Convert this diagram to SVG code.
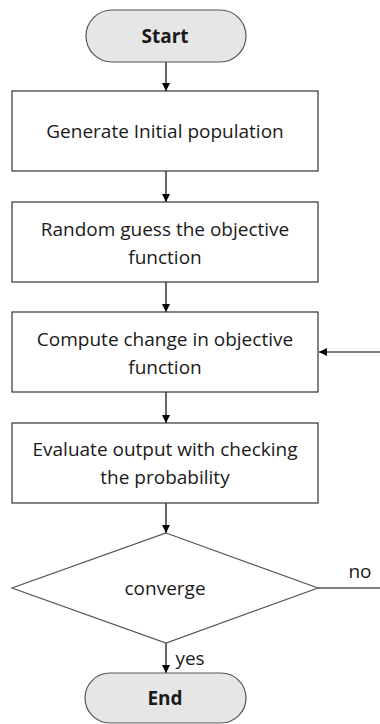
<svg xmlns="http://www.w3.org/2000/svg" width="380" height="724" viewBox="0 0 380 724">
  <style>
    .box { fill: #ffffff; stroke: #333333; stroke-width: 1.2; }
    .term { fill: #e6e6e6; stroke: #555555; stroke-width: 1.2; }
    .dia { fill: #ffffff; stroke: #555555; stroke-width: 1.2; }
    .lbl { font-family: "Open Sans", "Liberation Sans", sans-serif; font-size: 19px; fill: #1a1a1a; text-anchor: middle; }
    .bold { font-weight: bold; }
    .edge { stroke: #000000; stroke-width: 1.2; fill: none; }
  </style>
  <defs>
    <marker id="arrow" viewBox="0 0 10 10" refX="10" refY="5" markerWidth="8" markerHeight="8" markerUnits="userSpaceOnUse" orient="auto">
      <path d="M0,0 L10,5 L0,10 z" fill="#000000"/>
    </marker>
  </defs>

  <!-- connectors -->
  <g id="connectors">
    <line class="edge" x1="166" y1="62" x2="166" y2="91" marker-end="url(#arrow)"/>
    <line class="edge" x1="166" y1="171" x2="166" y2="202" marker-end="url(#arrow)"/>
    <line class="edge" x1="166" y1="282" x2="166" y2="312" marker-end="url(#arrow)"/>
    <line class="edge" x1="166" y1="392" x2="166" y2="423" marker-end="url(#arrow)"/>
    <line class="edge" x1="166" y1="503" x2="166" y2="533" marker-end="url(#arrow)"/>
    <line class="edge" x1="166" y1="643" x2="166" y2="673" marker-end="url(#arrow)"/>
    <line class="edge" x1="318" y1="588" x2="380" y2="588"/>
    <line class="edge" x1="380" y1="352" x2="319" y2="352" marker-end="url(#arrow)"/>
    <text class="lbl" x="360" y="578">no</text>
    <text class="lbl" x="190" y="665">yes</text>
  </g>

  <g id="start">
    <rect class="term" x="86" y="10" width="160" height="52" rx="26" ry="26"/>
    <text class="lbl bold" x="165" y="43">Start</text>
  </g>

  <g id="init">
    <rect class="box" x="12" y="91" width="306" height="80"/>
    <text class="lbl" x="165" y="138">Generate Initial population</text>
  </g>

  <g id="guess">
    <rect class="box" x="12" y="202" width="306" height="80"/>
    <text class="lbl" x="165" y="236">Random guess the objective</text>
    <text class="lbl" x="165" y="264">function</text>
  </g>

  <g id="compute">
    <rect class="box" x="12" y="312" width="306" height="80"/>
    <text class="lbl" x="165" y="346">Compute change in objective</text>
    <text class="lbl" x="165" y="374">function</text>
  </g>

  <g id="evaluate">
    <rect class="box" x="12" y="423" width="306" height="80"/>
    <text class="lbl" x="165" y="456">Evaluate output with checking</text>
    <text class="lbl" x="165" y="484">the probability</text>
  </g>

  <g id="converge">
    <polygon class="dia" points="166,533 318,588 166,643 12,588"/>
    <text class="lbl" x="165" y="595">converge</text>
  </g>

  <g id="end">
    <rect class="term" x="85" y="673" width="161" height="50" rx="25" ry="25"/>
    <text class="lbl bold" x="165" y="705">End</text>
  </g>
</svg>
